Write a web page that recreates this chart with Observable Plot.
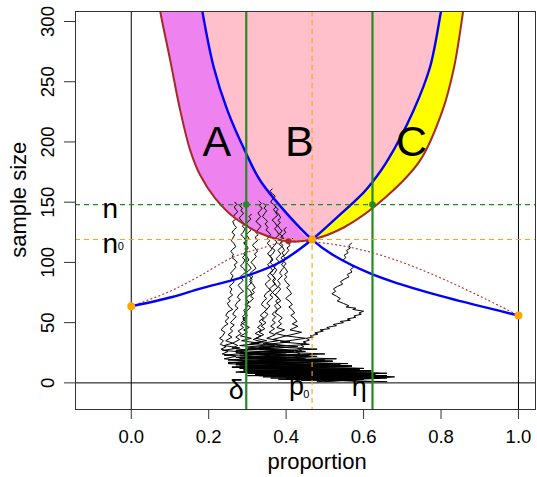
<!DOCTYPE html>
<html><head><meta charset="utf-8">
<script src="https://cdn.jsdelivr.net/npm/d3@7"></script>
<script src="https://cdn.jsdelivr.net/npm/@observablehq/plot@0.6"></script>
<style>body{margin:0;background:#fff} svg{display:block}</style>
</head><body><div id="chart"></div>
<script>
// ---- data ----
const xTicks = [0, 0.2, 0.4, 0.6, 0.8, 1.0];
const yTicks = [0, 50, 100, 150, 200, 250, 300];
const xDomain = [-0.144, 1.044];
const yDomain = [-22.1, 308.3];

const p0 = 0.467, n0 = 119, nFinal = 148, delta = 0.297, eta = 0.623;

// decreasing blue boundary
const blueFallX = [0.18, 0.213, 0.2486, 0.2975, 0.333, 0.402, 0.467, 0.5224, 0.623, 0.6946, 0.818, 1.0];
const blueFallN = [315, 262, 226, 190, 168, 140.5, 119, 105.9, 90, 82, 70.5, 56];
// increasing blue boundary
const blueRiseX = [0, 0.106, 0.178, 0.29, 0.385, 0.467, 0.53, 0.6, 0.623, 0.662, 0.7287, 0.7715, 0.80, 0.806];
const blueRiseN = [63.6, 71.3, 78.3, 88, 100.4, 119, 137, 158, 166.7, 184.7, 226, 262, 308.3, 318];
// brown outer boundary
const brownX = [0.072, 0.0749, 0.1007, 0.1265, 0.1523, 0.1782, 0.2169, 0.2685, 0.3331, 0.406, 0.467, 0.551, 0.6576, 0.746, 0.804, 0.8337, 0.857, 0.860];
const brownN = [315, 308.3, 267.7, 226.2, 193, 172.3, 153.2, 136.6, 124.2, 117.5, 119, 129.4, 154.3, 184.7, 226.2, 262, 308.3, 315];
// dotted red curve
const dotX = [0, 0.1, 0.178, 0.264, 0.333, 0.406, 0.5, 0.6, 0.7, 0.8, 0.9, 1.0];
const dotN = [63.6, 76, 89, 104.5, 111.5, 117.5, 116, 110, 100, 87, 72, 56];

const endX = [0, 1.0], endN = [63.6, 56];   // orange end points
const minX = 0.406, minN = 117.5;           // brown minimum point

const regionText = ["A", "B", "C"];
const regionX = [0.221, 0.434, 0.724];
const regionN = [200, 200, 200];

// sample paths [proportion, sample size]
const walk1 = [[0.268,150],[0.272,148],[0.266,146],[0.27,144],[0.275,142],[0.268,140],[0.264,138],[0.27,136],[0.262,134],[0.266,131],[0.272,129],[0.265,127],[0.26,125],[0.267,123],[0.262,120],[0.258,118],[0.265,116],[0.27,113],[0.262,111],[0.257,109],[0.264,107],[0.26,104],[0.268,102],[0.274,100],[0.266,98],[0.27,96],[0.262,93],[0.256,91],[0.263,89],[0.258,86],[0.266,84],[0.26,82],[0.253,80],[0.26,78],[0.255,75],[0.262,73],[0.25,70],[0.256,68],[0.248,66],[0.254,63],[0.262,61],[0.25,59],[0.244,56],[0.252,54],[0.242,51],[0.25,49],[0.24,47],[0.232,44],[0.242,42],[0.236,39],[0.228,37],[0.238,35],[0.23,32],[0.245,30],[0.232,28],[0.25,26],[0.235,24],[0.27,22],[0.24,20],[0.3,18],[0.25,16],[0.36,14],[0.27,13],[0.45,11],[0.3,10],[0.56,8],[0.36,7],[0.64,5],[0.42,4],[0.6,3],[0.5,2]];
const walk2 = [[0.285,149],[0.28,147],[0.287,145],[0.283,143],[0.29,141],[0.285,139],[0.279,137],[0.286,134],[0.292,132],[0.287,130],[0.294,128],[0.289,125],[0.283,123],[0.29,121],[0.296,118],[0.29,116],[0.297,114],[0.302,112],[0.295,109],[0.29,107],[0.298,105],[0.304,102],[0.297,100],[0.303,98],[0.31,95],[0.302,93],[0.296,91],[0.305,89],[0.312,86],[0.306,84],[0.314,82],[0.32,79],[0.312,77],[0.318,75],[0.308,72],[0.316,70],[0.305,67],[0.298,65],[0.308,63],[0.3,60],[0.292,58],[0.3,56],[0.288,53],[0.296,51],[0.282,48],[0.29,46],[0.276,43],[0.284,41],[0.27,38],[0.28,36],[0.262,33],[0.275,31],[0.26,29],[0.3,27],[0.27,25],[0.36,23],[0.29,21],[0.43,19],[0.31,17],[0.5,15],[0.33,13],[0.57,11],[0.36,9],[0.63,7],[0.42,5],[0.66,4],[0.52,2]];
const walk3 = [[0.33,151],[0.336,149],[0.331,147],[0.338,145],[0.333,143],[0.327,141],[0.334,138],[0.328,136],[0.322,134],[0.329,132],[0.335,130],[0.327,127],[0.321,125],[0.328,123],[0.32,121],[0.326,118],[0.318,116],[0.313,114],[0.32,112],[0.326,109],[0.318,107],[0.323,105],[0.315,102],[0.309,100],[0.316,98],[0.322,95],[0.314,93],[0.307,91],[0.314,88],[0.306,86],[0.312,84],[0.304,81],[0.298,79],[0.306,77],[0.312,74],[0.302,72],[0.296,70],[0.304,67],[0.294,65],[0.3,63],[0.29,60],[0.298,58],[0.287,55],[0.295,53],[0.284,50],[0.293,48],[0.305,46],[0.29,44],[0.3,42],[0.282,39],[0.31,37],[0.285,35],[0.33,33],[0.28,31],[0.36,29],[0.27,27],[0.4,25],[0.28,23],[0.45,20],[0.29,18],[0.52,16],[0.3,14],[0.6,12],[0.33,10],[0.66,8],[0.38,6],[0.68,5],[0.46,3],[0.62,1]];
const walk4 = [[0.364,161],[0.358,159],[0.365,157],[0.372,155],[0.366,153],[0.36,150],[0.368,148],[0.374,146],[0.367,144],[0.372,142],[0.378,139],[0.37,137],[0.364,135],[0.371,133],[0.377,130],[0.37,128],[0.376,126],[0.382,123],[0.375,121],[0.369,119],[0.376,117],[0.37,114],[0.364,112],[0.371,110],[0.365,107],[0.358,105],[0.364,103],[0.358,100],[0.352,98],[0.359,96],[0.366,93],[0.358,91],[0.352,89],[0.36,86],[0.352,84],[0.346,82],[0.353,79],[0.36,77],[0.35,75],[0.343,72],[0.35,70],[0.342,68],[0.336,65],[0.344,63],[0.35,61],[0.34,58],[0.333,56],[0.342,54],[0.33,51],[0.338,49],[0.326,46],[0.336,44],[0.32,41],[0.335,39],[0.315,36],[0.34,34],[0.305,32],[0.37,30],[0.3,28],[0.42,26],[0.29,24],[0.47,22],[0.28,20],[0.52,18],[0.27,16],[0.57,14],[0.28,12],[0.62,10],[0.3,8],[0.66,6],[0.36,4],[0.6,3],[0.48,1]];
const walk5 = [[0.342,149],[0.348,147],[0.343,145],[0.35,143],[0.345,141],[0.339,138],[0.346,136],[0.352,134],[0.346,132],[0.353,129],[0.348,127],[0.355,125],[0.36,123],[0.352,120],[0.358,118],[0.351,116],[0.357,114],[0.364,111],[0.357,109],[0.352,107],[0.36,105],[0.366,102],[0.359,100],[0.365,98],[0.371,95],[0.363,93],[0.358,91],[0.366,89],[0.373,86],[0.366,84],[0.372,82],[0.378,79],[0.37,77],[0.365,75],[0.374,72],[0.381,70],[0.373,68],[0.38,65],[0.387,63],[0.378,61],[0.372,58],[0.382,56],[0.39,54],[0.38,51],[0.388,49],[0.376,46],[0.396,44],[0.372,41],[0.4,39],[0.365,36],[0.41,34],[0.35,32],[0.43,30],[0.33,28],[0.45,26],[0.32,24],[0.48,22],[0.3,20],[0.52,18],[0.28,16],[0.57,14],[0.3,12],[0.62,10],[0.33,8],[0.66,6],[0.4,4],[0.58,3],[0.44,2]];
const walk6 = [[0.373,146],[0.379,144],[0.374,142],[0.381,140],[0.386,137],[0.379,135],[0.385,133],[0.378,131],[0.384,128],[0.39,126],[0.383,124],[0.389,122],[0.395,119],[0.388,117],[0.382,115],[0.39,113],[0.396,110],[0.389,108],[0.394,106],[0.387,104],[0.393,101],[0.4,99],[0.393,97],[0.398,95],[0.404,92],[0.396,90],[0.402,88],[0.395,86],[0.402,83],[0.409,81],[0.401,79],[0.408,77],[0.414,74],[0.405,72],[0.399,70],[0.408,68],[0.416,65],[0.407,63],[0.415,61],[0.422,58],[0.412,56],[0.42,54],[0.428,51],[0.416,49],[0.43,47],[0.41,44],[0.44,42],[0.4,39],[0.45,37],[0.385,34],[0.46,32],[0.36,30],[0.48,28],[0.34,26],[0.5,24],[0.32,22],[0.53,20],[0.3,18],[0.56,16],[0.28,14],[0.6,12],[0.29,10],[0.64,8],[0.33,6],[0.66,5],[0.4,3],[0.58,2]];
const walk7 = [[0.417,120],[0.411,118],[0.405,116],[0.41,114],[0.402,112],[0.407,110],[0.399,107],[0.393,105],[0.4,103],[0.394,101],[0.388,98],[0.395,96],[0.389,94],[0.383,91],[0.39,89],[0.384,87],[0.378,85],[0.385,82],[0.379,80],[0.386,78],[0.378,75],[0.372,73],[0.379,71],[0.386,68],[0.376,66],[0.37,64],[0.378,61],[0.37,59],[0.364,57],[0.373,55],[0.364,52],[0.372,50],[0.36,47],[0.37,45],[0.356,42],[0.372,40],[0.35,37],[0.38,35],[0.34,33],[0.4,31],[0.33,29],[0.43,27],[0.31,25],[0.46,23],[0.3,21],[0.5,19],[0.28,17],[0.54,15],[0.26,13],[0.59,11],[0.28,9],[0.63,7],[0.34,5],[0.62,4],[0.44,2]];
const walk8 = [[0.4,129],[0.394,127],[0.399,125],[0.393,123],[0.386,121],[0.392,119],[0.386,116],[0.392,114],[0.385,112],[0.379,110],[0.386,107],[0.38,105],[0.374,103],[0.381,101],[0.375,98],[0.369,96],[0.376,94],[0.37,91],[0.364,89],[0.371,87],[0.365,85],[0.372,82],[0.363,80],[0.357,78],[0.365,75],[0.358,73],[0.366,71],[0.356,68],[0.35,66],[0.358,64],[0.35,61],[0.344,59],[0.353,57],[0.345,54],[0.338,52],[0.348,50],[0.336,47],[0.345,45],[0.33,42],[0.342,40],[0.322,37],[0.35,35],[0.31,33],[0.37,31],[0.3,29],[0.4,27],[0.28,25],[0.43,23],[0.27,21],[0.47,19],[0.25,17],[0.52,15],[0.26,13],[0.57,11],[0.27,9],[0.62,8],[0.3,6],[0.67,5],[0.38,3],[0.66,1]];
const walk9 = [[0.569,116],[0.562,114],[0.566,112],[0.556,110],[0.56,108],[0.55,106],[0.554,104],[0.547,102],[0.556,100],[0.566,98],[0.574,96],[0.566,94],[0.57,92],[0.558,90],[0.562,88],[0.55,86],[0.54,84],[0.546,82],[0.532,80],[0.522,78],[0.528,76],[0.518,74],[0.53,72],[0.54,70],[0.532,68],[0.548,66],[0.562,64],[0.555,63],[0.58,62],[0.572,61],[0.6,59.5],[0.588,58],[0.594,57],[0.575,55.5],[0.58,54.5],[0.558,53],[0.566,52],[0.54,51],[0.548,50],[0.522,48.5],[0.53,47.5],[0.505,46],[0.512,45],[0.488,44],[0.496,43],[0.474,41.5],[0.482,40.5],[0.462,39],[0.47,38],[0.452,37],[0.46,35.5],[0.444,34],[0.452,33],[0.438,31.5],[0.446,30],[0.43,28.5],[0.44,27],[0.425,25.5],[0.436,24],[0.42,23],[0.43,21],[0.36,20],[0.5,18],[0.32,16],[0.56,14],[0.3,12],[0.62,10],[0.32,8],[0.66,6],[0.4,4],[0.6,3],[0.5,1]];
const walk10 = [[0.31,140],[0.304,138],[0.309,136],[0.302,134],[0.297,132],[0.304,129],[0.31,127],[0.303,125],[0.297,123],[0.304,120],[0.298,118],[0.292,116],[0.299,113],[0.293,111],[0.3,109],[0.293,106],[0.287,104],[0.294,102],[0.288,99],[0.282,97],[0.29,95],[0.296,92],[0.288,90],[0.282,88],[0.289,85],[0.282,83],[0.276,81],[0.284,78],[0.29,76],[0.28,74],[0.274,71],[0.282,69],[0.274,67],[0.268,64],[0.276,62],[0.268,60],[0.262,57],[0.271,55],[0.262,52],[0.256,50],[0.266,48],[0.255,45],[0.262,43],[0.25,40],[0.26,38],[0.244,35],[0.262,33],[0.24,31],[0.28,29],[0.236,27],[0.31,25],[0.24,23],[0.36,21],[0.25,19],[0.42,17],[0.27,15],[0.49,13],[0.29,11],[0.56,9],[0.32,7],[0.62,5],[0.4,4],[0.55,2]];
const walks = [walk1, walk2, walk3, walk4, walk5, walk6, walk7, walk8, walk9, walk10];

// ---- tables built from the arrays ----
const zip = (xs, ns) => xs.map((x, i) => ({x, n: ns[i]}));
const blueFall = zip(blueFallX, blueFallN);
const blueRise = zip(blueRiseX, blueRiseN);
const brown = zip(brownX, brownN);
const dotted = zip(dotX, dotN);
const brownLeft = brown.filter(d => d.x <= p0);
const brownRight = brown.filter(d => d.x >= p0);
const upper = blueFall.filter(d => d.x <= p0).concat(blueRise.filter(d => d.x > p0));
const walkRows = walks.flatMap((w, k) => w.map(([x, n]) => ({x, n, k})));
const yTop = yDomain[1] + 10;

const font = "'Liberation Sans', Arial, Helvetica, sans-serif";
const C = "catmull-rom";

const chart = Plot.plot({
  width: 537, height: 477,
  marginLeft: 75, marginRight: 2, marginTop: 11, marginBottom: 68,
  x: {domain: xDomain},
  y: {domain: yDomain},
  style: {fontFamily: font, background: "white", color: "black"},
  marks: [
    Plot.areaY(brownLeft, {x: "x", y1: "n", y2: () => yTop, curve: C, fill: "#EE82EE", clip: true}),
    Plot.areaY(brownRight, {x: "x", y1: "n", y2: () => yTop, curve: C, fill: "#FFFF00", clip: true}),
    Plot.areaY(upper, {x: "x", y1: "n", y2: () => yTop, curve: C, fill: "#FFC0CB", clip: true}),
    Plot.ruleX([0, 1], {stroke: "black", strokeWidth: 1}),
    Plot.ruleY([0], {stroke: "black", strokeWidth: 1}),
    Plot.line(walkRows, {x: "x", y: "n", z: "k", stroke: "black", strokeWidth: 1, clip: true}),
    Plot.line(dotted, {x: "x", y: "n", curve: C, stroke: "#B03A3A", strokeWidth: 1.2, strokeDasharray: "1,3.2", clip: true}),
    Plot.line(brown, {x: "x", y: "n", curve: C, stroke: "#A52A2A", strokeWidth: 2, clip: true}),
    Plot.line(blueFall, {x: "x", y: "n", curve: C, stroke: "#0000FF", strokeWidth: 2.4, clip: true}),
    Plot.line(blueRise, {x: "x", y: "n", curve: C, stroke: "#0000FF", strokeWidth: 2.4, clip: true}),
    Plot.ruleX([delta, eta], {stroke: "#228B22", strokeWidth: 2.2}),
    Plot.ruleY([nFinal], {stroke: "#228B22", strokeWidth: 1.1, strokeDasharray: "5,4"}),
    Plot.ruleY([n0], {stroke: "#FFA500", strokeWidth: 1.1, strokeDasharray: "5,4"}),
    Plot.ruleX([p0], {stroke: "#FFA500", strokeWidth: 1.1, strokeDasharray: "5,4"}),
    Plot.dot([[minX, minN]], {x: d => d[0], y: d => d[1], r: 3, fill: "#A52A2A", stroke: null}),
    Plot.dot([[delta, nFinal], [eta, nFinal]], {x: d => d[0], y: d => d[1], r: 3.3, fill: "#228B22", stroke: null}),
    Plot.dot(endX.map((x, i) => [x, endN[i]]).concat([[p0, n0]]), {x: d => d[0], y: d => d[1], r: 4, fill: "#FFA500", stroke: null}),
    Plot.text(regionText, {x: (d, i) => regionX[i], y: (d, i) => regionN[i], text: d => d, fontSize: 43, fill: "black"}),
    Plot.text(["n"], {x: -0.054, y: 144, text: d => d, fontSize: 28}),
    Plot.text(["n"], {x: -0.054, y: 115.4, text: d => d, fontSize: 28}),
    Plot.text(["0"], {x: -0.027, y: 113, text: d => d, fontSize: 11}),
    Plot.text(["δ"], {x: 0.271, y: -6.4, text: d => d, fontSize: 27}),
    Plot.text(["p"], {x: 0.427, y: -3.2, text: d => d, fontSize: 27}),
    Plot.text(["0"], {x: 0.452, y: -9.4, text: d => d, fontSize: 11}),
    Plot.text(["η"], {x: 0.589, y: -3.6, text: d => d, fontSize: 27}),
    Plot.frame({stroke: "#333", strokeWidth: 1}),
    Plot.axisX({ticks: xTicks, tickFormat: d3.format(".1f"), tickSize: 10, tickPadding: 10, fontSize: 18.5, label: null, stroke: "#333"}),
    Plot.axisY({ticks: yTicks, tickSize: 11, tickFormat: () => "", label: null, stroke: "#333"}),
    Plot.text(yTicks, {y: d => d, frameAnchor: "left", rotate: -90, dx: -27, textAnchor: "middle", lineAnchor: "middle", text: d => String(d), fontSize: 18.5}),
    Plot.text(["sample size"], {y: 152, frameAnchor: "left", rotate: -90, dx: -57, textAnchor: "middle", lineAnchor: "middle", text: d => d, fontSize: 22}),
    Plot.text(["proportion"], {x: 0.48, frameAnchor: "bottom", dy: 52, lineAnchor: "middle", textAnchor: "middle", text: d => d, fontSize: 22})
  ]
});
document.getElementById("chart").appendChild(chart);
</script>
</body></html>
